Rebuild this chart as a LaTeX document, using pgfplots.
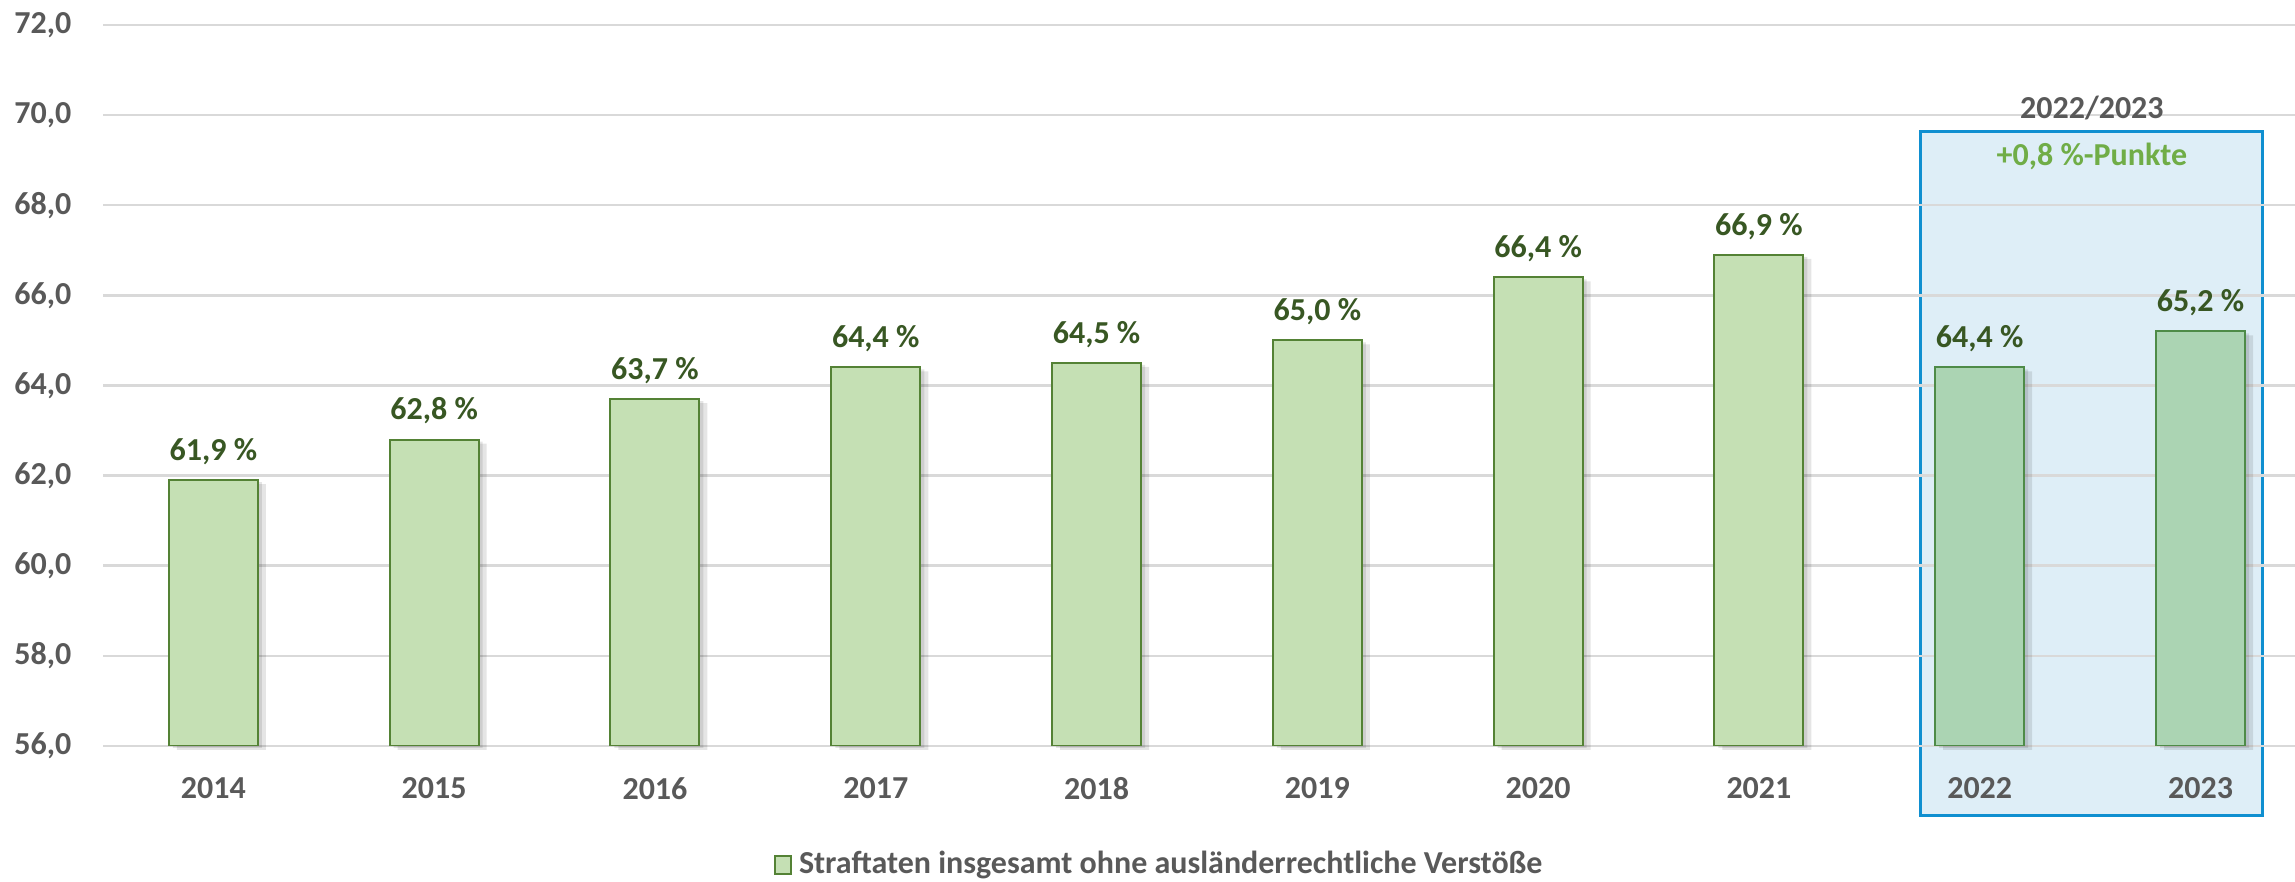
\documentclass[border=0pt]{standalone}
\usepackage{pgfplots}
\pgfplotsset{compat=1.18}
\usepackage{fontspec}
\setmainfont{Carlito}

\definecolor{gridgray}{HTML}{D9D9D9}
\definecolor{ticktext}{HTML}{595959}
\definecolor{barfill}{HTML}{C5E0B4}
\definecolor{barline}{HTML}{548235}
\definecolor{hifill}{HTML}{ABD4B3}
\definecolor{hiline}{HTML}{4E8B48}
\definecolor{labeltext}{HTML}{385723}
\definecolor{boxfill}{HTML}{D6EAF5}
\definecolor{boxline}{HTML}{0F8FD0}
\definecolor{deltagreen}{HTML}{70AD47}

\pgfplotsset{
  layers/labelsontop/.define layer set={
    axis background, axis grid, axis ticks, axis lines, pre main, main,
    axis tick labels, axis descriptions, axis foreground
  }{},
}

\newcommand{\chartfont}{\bfseries\fontsize{9.6}{11.5}\selectfont}

\begin{document}
\begin{tikzpicture}
\begin{axis}[
  set layers=labelsontop,
  scale only axis, width=657.6pt, height=216.3pt,
  xmin=-0.5, xmax=9.428, ymin=56, ymax=72,
  clip mode=individual,
  ybar, bar width=26.7pt,
  axis line style={draw=none},
  major tick length=0pt,
  ymajorgrids, grid style={gridgray, line width=0.75pt},
  ytick={56,58,...,72},
  xtick={0,...,9},
  xticklabels={2014,2015,2016,2017,2018,2019,2020,2021,2022,2023},
  /pgf/number format/.cd, use comma, fixed, fixed zerofill, precision=1, assume math mode=true,
  /pgfplots/.cd,
  tick label style={font=\chartfont, text=ticktext},
  yticklabel style={xshift=-6pt},
  xticklabel style={yshift=-6pt},
  nodes near coords={\pgfmathprintnumber{\pgfplotspointmeta}~\%},
  nodes near coords style={font=\chartfont, text=labeltext, anchor=south, yshift=1pt},
  legend style={at={(0.483,-0.165)}, anchor=center, draw=none, fill=none,
    font=\chartfont, text=ticktext},
]
% highlight box for 2022/2023
\begin{pgfonlayer}{pre main}
\draw[fill=boxfill, fill opacity=0.8, draw=boxline, line width=0.9pt]
  (axis cs:7.733,54.45) rectangle (axis cs:9.282,69.63);
\end{pgfonlayer}
\node[font=\chartfont, text=ticktext] at (axis cs:8.508,70.16) {2022/2023};
\node[font=\chartfont, text=deltagreen] at (axis cs:8.508,69.09) {+0,8~\%-Punkte};

% soft shadows
\addplot[forget plot, draw=none, fill=black, fill opacity=0.10, bar shift=2.4pt,
  yshift=-1.2pt, nodes near coords={}] coordinates {
  (0,61.9) (1,62.8) (2,63.7) (3,64.4) (4,64.5) (5,65.0) (6,66.4) (7,66.9) (8,64.4) (9,65.2)
};
\addplot[forget plot, draw=none, fill=black, fill opacity=0.10, bar shift=1.2pt,
  yshift=-0.6pt, nodes near coords={}] coordinates {
  (0,61.9) (1,62.8) (2,63.7) (3,64.4) (4,64.5) (5,65.0) (6,66.4) (7,66.9) (8,64.4) (9,65.2)
};

\addplot[fill=barfill, draw=barline, line width=0.6pt, bar shift=0pt,
  legend image code/.code={\draw[fill=barfill, draw=barline, line width=0.6pt]
    (0pt,-2.6pt) rectangle (4.8pt,2.8pt);}] coordinates {
  (0,61.9) (1,62.8) (2,63.7) (3,64.4) (4,64.5) (5,65.0) (6,66.4) (7,66.9)
};
\addlegendentry{Straftaten insgesamt ohne ausländerrechtliche Verstöße}

\addplot[forget plot, fill=hifill, draw=hiline, line width=0.6pt, bar shift=0pt] coordinates {
  (8,64.4) (9,65.2)
};
\end{axis}
\pgfresetboundingbox
\path[use as bounding box] ([shift={(-30.9pt,-40.8pt)}]current axis.south west)
  rectangle ([shift={(0pt,7.5pt)}]current axis.north east);
\end{tikzpicture}
\end{document}
